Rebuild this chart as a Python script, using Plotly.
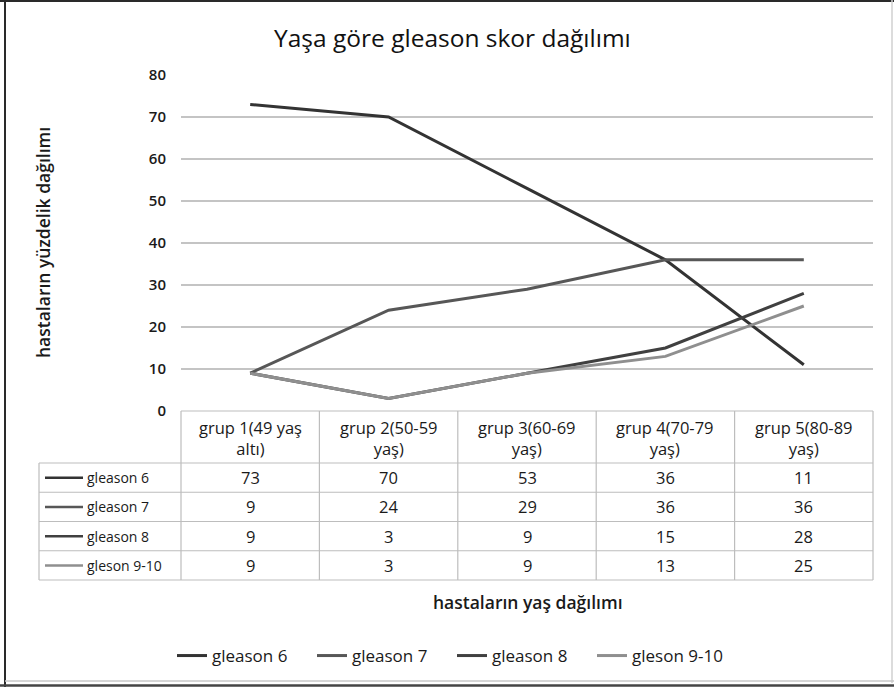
import plotly.graph_objects as go

# ---- data ----
groups = ["grup 1(49 yaş<br>altı)", "grup 2(50-59<br>yaş)", "grup 3(60-69<br>yaş)",
          "grup 4(70-79<br>yaş)", "grup 5(80-89<br>yaş)"]
series_names = ["gleason 6", "gleason 7", "gleason 8", "gleson 9-10"]
gleason6 = [73, 70, 53, 36, 11]
gleason7 = [9, 24, 29, 36, 36]
gleason8 = [9, 3, 9, 15, 28]
gleason9_10 = [9, 3, 9, 13, 25]
series_values = [gleason6, gleason7, gleason8, gleason9_10]
y_ticks = [0, 10, 20, 30, 40, 50, 60, 70, 80]

# ---- layout geometry (pixels) ----
W, H = 894, 687
PLOT_L, PLOT_R = 181, 873
PLOT_T, PLOT_B = 75, 411
TAB_L = 39
HEAD_B = 463
ROW_H = 29.25

colors = ["#333333", "#575757", "#404040", "#8f8f8f"]
FONT = "Open Sans"
TXT = "#1a1a1a"


def px(x):
    return x / W


def py(y):
    return 1 - y / H


fig = go.Figure()
x_idx = list(range(len(groups)))
for name, vals, col in zip(series_names, series_values, colors):
    fig.add_trace(go.Scatter(
        x=x_idx, y=vals, mode="lines", name=name,
        line=dict(color=col, width=3), showlegend=True,
    ))

shapes = []
annotations = []


def hline(x0, x1, y, color="#bdbdbd", w=1.2):
    shapes.append(dict(type="line", xref="paper", yref="paper",
                       x0=px(x0), x1=px(x1), y0=py(y), y1=py(y),
                       line=dict(color=color, width=w)))


def vline(x, y0, y1, color="#bdbdbd", w=1.2):
    shapes.append(dict(type="line", xref="paper", yref="paper",
                       x0=px(x), x1=px(x), y0=py(y0), y1=py(y1),
                       line=dict(color=color, width=w)))


def text(x, y, s, size=14, xanchor="center", color=TXT, weight=None, angle=0):
    f = dict(family=FONT, size=size, color=color)
    if weight:
        f["weight"] = weight
    annotations.append(dict(xref="paper", yref="paper", x=px(x), y=py(y),
                            text=s, showarrow=False, xanchor=xanchor,
                            yanchor="middle", font=f, textangle=angle))


# ---- data table under the plot ----
n_cols = len(groups)
col_w = (PLOT_R - PLOT_L) / n_cols
tab_b = HEAD_B + ROW_H * len(series_names)

# header row borders
hline(PLOT_L, PLOT_R, PLOT_B)
for i in range(n_cols + 1):
    vline(PLOT_L + i * col_w, PLOT_B, tab_b)
# body row borders
for r in range(len(series_names) + 1):
    hline(TAB_L, PLOT_R, HEAD_B + r * ROW_H)
vline(TAB_L, HEAD_B, tab_b)

for i, g in enumerate(groups):
    text(PLOT_L + (i + 0.5) * col_w, (PLOT_B + HEAD_B) / 2 + 1, g, size=16.5)

for r, (name, vals, col) in enumerate(zip(series_names, series_values, colors)):
    yc = HEAD_B + (r + 0.5) * ROW_H
    hline(45, 83, yc, color=col, w=2.5)
    text(85, yc, name, size=14, xanchor="left")
    for i, v in enumerate(vals):
        text(PLOT_L + (i + 0.5) * col_w, yc, str(v), size=16.5)

# ---- titles ----
text(452, 37, "Yaşa göre gleason skor dağılımı", size=24.5, color="#111111")
text(528, 602, "hastaların yaş dağılımı", size=17.5, weight=600)
text(43, 243, "hastaların yüzdelik dağılımı", size=17.5, weight=600, angle=-90)

# ---- outer frame ----
hline(0, W, 1, color="#2a2a2a", w=2)
vline(5, 0, 687, color="#2a2a2a", w=2)
vline(892, 0, 683, color="#d0d0d0", w=1.5)
hline(5, W, 681, color="#c8c8c8", w=1.5)
hline(0, W, 685.5, color="#444444", w=2.5)

fig.update_layout(
    width=W, height=H,
    margin=dict(l=0, r=0, t=0, b=0, autoexpand=False),
    paper_bgcolor="white", plot_bgcolor="white",
    shapes=shapes, annotations=annotations,
    xaxis=dict(domain=[px(PLOT_L), px(PLOT_R)], range=[-0.5, n_cols - 0.5],
               showticklabels=False, showgrid=False, zeroline=False,
               showline=False, fixedrange=True, automargin=False),
    yaxis=dict(domain=[py(PLOT_B), py(PLOT_T)], range=[0, 80],
               tickvals=y_ticks, showgrid=True, gridcolor="#c4c4c4",
               gridwidth=1.5, zeroline=False, showline=False,
               ticks="", ticklabelstandoff=14, automargin=False,
               tickfont=dict(family=FONT, size=15, color=TXT, weight=600)),
    legend=dict(orientation="h", x=px(172), xanchor="left", y=py(656),
                yanchor="middle", entrywidth=95, entrywidthmode="pixels",
                font=dict(family=FONT, size=17, color=TXT),
                bgcolor="rgba(0,0,0,0)", itemclick=False),
    showlegend=True,
)

fig.write_html("out.html")
